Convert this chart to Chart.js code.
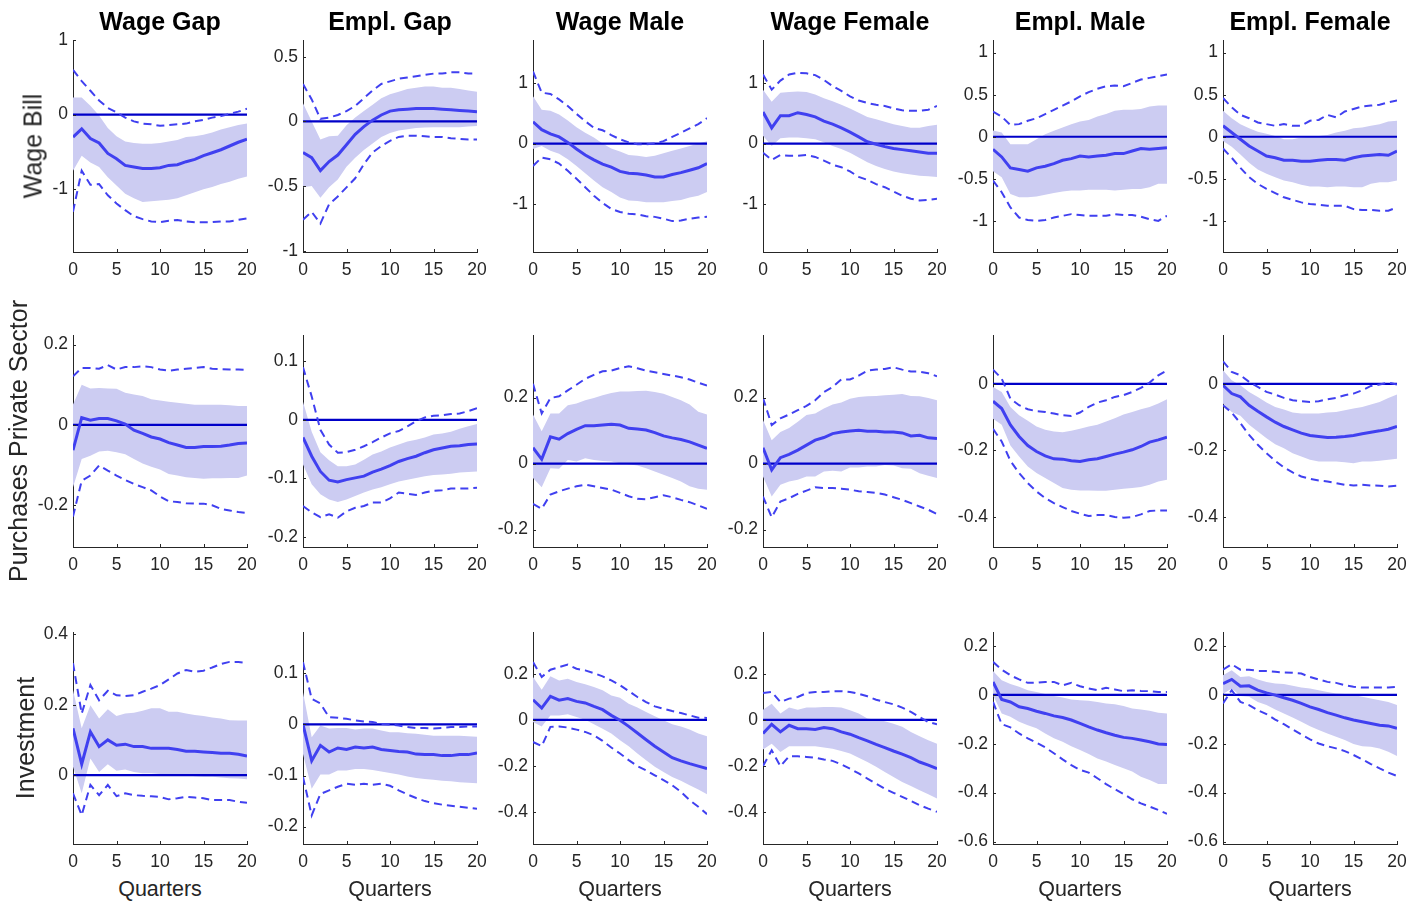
<!DOCTYPE html>
<html lang="en">
<head>
<meta charset="UTF-8">
<title>Impulse responses by shock and variable</title>
<script src="https://cdn.jsdelivr.net/npm/chart.js"></script>
<style>
  body { margin: 0; background: #fff; font-family: "Liberation Sans", Arial, sans-serif; }
  #fig { position: relative; width: 1424px; height: 905px; overflow: hidden; }
  .panel { position: absolute; }
  .colTitle { position: absolute; font-weight: bold; font-size: 25px; color: #000; text-align: center; white-space: nowrap; transform: translate(-50%, -50%); }
  .rowLabel { position: absolute; font-size: 25px; color: #262626; white-space: nowrap; transform: translate(-50%, -50%) rotate(-90deg); }
  .xLabel { position: absolute; font-size: 21.5px; color: #262626; white-space: nowrap; transform: translate(-50%, -50%); }
</style>
</head>
<body>
<div id="fig"></div>
<script>
const columns = ["Wage Gap", "Empl. Gap", "Wage Male", "Wage Female", "Empl. Male", "Empl. Female"];
const rows = ["Wage Bill", "Purchases Private Sector", "Investment"];
const quarters = [0,1,2,3,4,5,6,7,8,9,10,11,12,13,14,15,16,17,18,19,20];
const xTicks = [0, 5, 10, 15, 20];

// y limits and tick labels, one entry per panel (row by row)
const yMin = [
  [-1.84, -1.01, -1.79, -1.79, -1.37, -1.37],
  [-0.304, -0.217, -0.253, -0.253, -0.49, -0.49],
  [-0.196, -0.234, -0.54, -0.54, -0.61, -0.61]
];
const yMax = [
  [1, 0.63, 1.71, 1.71, 1.15, 1.15],
  [0.224, 0.145, 0.39, 0.39, 0.147, 0.147],
  [0.407, 0.181, 0.383, 0.383, 0.257, 0.257]
];
const yTicks = [
  [[-1,0,1], [-1,-0.5,0,0.5], [-1,0,1], [-1,0,1], [-1,-0.5,0,0.5,1], [-1,-0.5,0,0.5,1]],
  [[-0.2,0,0.2], [-0.2,-0.1,0,0.1], [-0.2,0,0.2], [-0.2,0,0.2], [-0.4,-0.2,0], [-0.4,-0.2,0]],
  [[0,0.2,0.4], [-0.2,-0.1,0,0.1], [-0.4,-0.2,0,0.2], [-0.4,-0.2,0,0.2], [-0.6,-0.4,-0.2,0,0.2], [-0.6,-0.4,-0.2,0,0.2]]
];

// ---- Wage Bill shock ----
const wageBillMedian = [
  [-0.30,-0.19,-0.32,-0.38,-0.52,-0.59,-0.68,-0.70,-0.72,-0.72,-0.71,-0.68,-0.67,-0.63,-0.60,-0.55,-0.51,-0.47,-0.42,-0.37,-0.33],
  [-0.24,-0.28,-0.38,-0.31,-0.26,-0.18,-0.10,-0.04,0.01,0.05,0.08,0.09,0.095,0.10,0.10,0.10,0.095,0.09,0.085,0.08,0.075],
  [0.36,0.23,0.16,0.11,0.02,-0.09,-0.19,-0.27,-0.34,-0.39,-0.46,-0.49,-0.50,-0.52,-0.55,-0.55,-0.51,-0.48,-0.44,-0.40,-0.33],
  [0.52,0.26,0.46,0.46,0.51,0.48,0.44,0.37,0.32,0.26,0.19,0.11,0.03,-0.01,-0.05,-0.08,-0.10,-0.12,-0.14,-0.16,-0.16],
  [-0.15,-0.24,-0.37,-0.39,-0.41,-0.37,-0.35,-0.32,-0.28,-0.26,-0.23,-0.24,-0.23,-0.22,-0.20,-0.20,-0.17,-0.14,-0.15,-0.14,-0.13],
  [0.13,0.05,-0.03,-0.11,-0.17,-0.23,-0.25,-0.28,-0.28,-0.29,-0.29,-0.28,-0.27,-0.27,-0.28,-0.25,-0.23,-0.22,-0.21,-0.22,-0.17]
];
const wageBillBandHi = [
  [0.23,0.23,0.12,-0.01,-0.18,-0.29,-0.36,-0.38,-0.39,-0.39,-0.38,-0.36,-0.34,-0.30,-0.29,-0.27,-0.24,-0.20,-0.17,-0.14,-0.12],
  [0.14,0.0,-0.14,-0.115,-0.11,-0.03,0.03,0.08,0.13,0.18,0.21,0.23,0.25,0.26,0.27,0.27,0.26,0.26,0.25,0.24,0.23],
  [0.78,0.56,0.54,0.48,0.38,0.27,0.18,0.10,0.0,-0.08,-0.13,-0.19,-0.20,-0.22,-0.20,-0.16,-0.12,-0.08,-0.04,0.0,0.04],
  [0.89,0.69,0.84,0.85,0.86,0.85,0.81,0.75,0.70,0.64,0.58,0.51,0.44,0.40,0.36,0.32,0.29,0.26,0.26,0.29,0.31],
  [0.075,0.05,-0.09,-0.09,-0.09,-0.03,0.03,0.07,0.11,0.15,0.18,0.20,0.24,0.27,0.31,0.32,0.32,0.33,0.36,0.37,0.37],
  [0.31,0.22,0.15,0.10,0.06,0.035,0.01,-0.03,-0.03,-0.01,0.0,0.01,0.02,0.05,0.07,0.10,0.11,0.13,0.15,0.18,0.19]
];
const wageBillBandLo = [
  [-0.75,-0.55,-0.64,-0.70,-0.84,-0.95,-1.06,-1.12,-1.17,-1.16,-1.15,-1.14,-1.12,-1.08,-1.04,-1.00,-0.97,-0.93,-0.90,-0.86,-0.83],
  [-0.51,-0.50,-0.59,-0.51,-0.45,-0.35,-0.28,-0.22,-0.17,-0.12,-0.09,-0.07,-0.06,-0.05,-0.046,-0.044,-0.044,-0.044,-0.044,-0.04,-0.035],
  [-0.09,-0.04,-0.12,-0.17,-0.26,-0.37,-0.49,-0.61,-0.72,-0.80,-0.89,-0.94,-0.95,-0.97,-0.97,-0.97,-0.95,-0.93,-0.89,-0.86,-0.80],
  [0.13,-0.04,0.09,0.10,0.10,0.09,0.07,0.02,-0.04,-0.09,-0.15,-0.23,-0.31,-0.37,-0.42,-0.46,-0.49,-0.51,-0.53,-0.54,-0.55],
  [-0.41,-0.48,-0.68,-0.72,-0.72,-0.71,-0.69,-0.67,-0.65,-0.64,-0.64,-0.63,-0.63,-0.63,-0.64,-0.63,-0.62,-0.62,-0.60,-0.56,-0.56],
  [-0.05,-0.12,-0.21,-0.31,-0.39,-0.44,-0.48,-0.52,-0.54,-0.57,-0.59,-0.59,-0.60,-0.59,-0.59,-0.60,-0.60,-0.56,-0.54,-0.54,-0.52]
];
const wageBillOuterHi = [
  [0.60,0.45,0.32,0.19,0.09,0.03,-0.04,-0.09,-0.12,-0.13,-0.15,-0.14,-0.13,-0.12,-0.09,-0.07,-0.04,-0.02,0.01,0.04,0.08],
  [0.29,0.17,0.02,0.03,0.05,0.08,0.12,0.18,0.24,0.29,0.31,0.33,0.34,0.35,0.36,0.37,0.37,0.38,0.38,0.37,0.37],
  [1.19,0.84,0.82,0.73,0.62,0.49,0.37,0.26,0.22,0.14,0.07,0.02,-0.01,-0.01,0.0,0.04,0.11,0.18,0.25,0.32,0.42],
  [1.14,0.89,1.04,1.14,1.17,1.16,1.13,1.05,0.95,0.87,0.78,0.71,0.67,0.64,0.62,0.58,0.55,0.54,0.54,0.56,0.62],
  [0.30,0.24,0.14,0.15,0.19,0.22,0.27,0.32,0.37,0.42,0.48,0.53,0.57,0.60,0.61,0.60,0.64,0.68,0.70,0.72,0.74],
  [0.46,0.35,0.26,0.22,0.17,0.15,0.13,0.15,0.13,0.13,0.19,0.20,0.26,0.23,0.30,0.33,0.36,0.37,0.38,0.41,0.43]
];
const wageBillOuterLo = [
  [-1.30,-0.75,-0.94,-0.93,-1.08,-1.19,-1.28,-1.36,-1.40,-1.43,-1.44,-1.42,-1.41,-1.43,-1.44,-1.44,-1.44,-1.43,-1.43,-1.41,-1.39],
  [-0.76,-0.70,-0.79,-0.64,-0.58,-0.51,-0.44,-0.33,-0.24,-0.19,-0.15,-0.12,-0.11,-0.11,-0.115,-0.12,-0.12,-0.13,-0.135,-0.14,-0.14],
  [-0.37,-0.23,-0.26,-0.33,-0.45,-0.58,-0.72,-0.86,-0.98,-1.08,-1.13,-1.16,-1.17,-1.20,-1.21,-1.24,-1.28,-1.27,-1.24,-1.22,-1.21],
  [-0.15,-0.27,-0.19,-0.20,-0.20,-0.19,-0.22,-0.28,-0.35,-0.39,-0.46,-0.55,-0.60,-0.67,-0.72,-0.79,-0.86,-0.91,-0.94,-0.93,-0.91],
  [-0.52,-0.66,-0.84,-0.96,-0.99,-1.00,-0.99,-0.96,-0.94,-0.92,-0.93,-0.94,-0.94,-0.94,-0.92,-0.93,-0.93,-0.95,-0.98,-1.00,-0.94],
  [-0.14,-0.25,-0.37,-0.48,-0.56,-0.62,-0.67,-0.72,-0.75,-0.78,-0.80,-0.81,-0.82,-0.82,-0.82,-0.86,-0.87,-0.87,-0.88,-0.88,-0.84]
];

// ---- Purchases Private Sector shock ----
const purchasesMedian = [
  [-0.063,0.018,0.012,0.016,0.016,0.01,0.002,-0.013,-0.021,-0.03,-0.035,-0.044,-0.05,-0.056,-0.056,-0.054,-0.054,-0.053,-0.05,-0.046,-0.045],
  [-0.030,-0.062,-0.088,-0.103,-0.106,-0.102,-0.099,-0.096,-0.089,-0.084,-0.078,-0.071,-0.066,-0.062,-0.056,-0.051,-0.048,-0.045,-0.044,-0.042,-0.041],
  [0.048,0.013,0.081,0.074,0.091,0.104,0.115,0.115,0.117,0.119,0.117,0.107,0.105,0.102,0.094,0.084,0.078,0.073,0.066,0.056,0.046],
  [0.048,-0.019,0.018,0.028,0.041,0.056,0.071,0.079,0.091,0.096,0.099,0.101,0.098,0.098,0.096,0.096,0.093,0.084,0.086,0.078,0.076],
  [-0.052,-0.074,-0.123,-0.158,-0.185,-0.203,-0.216,-0.225,-0.226,-0.231,-0.233,-0.228,-0.225,-0.218,-0.211,-0.205,-0.198,-0.188,-0.175,-0.168,-0.16],
  [-0.004,-0.029,-0.039,-0.064,-0.082,-0.099,-0.115,-0.128,-0.138,-0.148,-0.155,-0.158,-0.161,-0.16,-0.158,-0.155,-0.15,-0.145,-0.141,-0.136,-0.128]
];
const purchasesBandHi = [
  [0.051,0.10,0.091,0.092,0.091,0.09,0.08,0.076,0.072,0.064,0.061,0.058,0.055,0.053,0.05,0.05,0.05,0.05,0.049,0.047,0.047],
  [0.031,-0.02,-0.055,-0.069,-0.079,-0.079,-0.076,-0.068,-0.059,-0.054,-0.047,-0.042,-0.037,-0.034,-0.03,-0.025,-0.023,-0.02,-0.015,-0.011,-0.007],
  [0.149,0.098,0.152,0.152,0.177,0.182,0.192,0.199,0.207,0.214,0.219,0.219,0.22,0.221,0.217,0.212,0.202,0.192,0.179,0.157,0.149],
  [0.132,0.071,0.096,0.108,0.127,0.147,0.152,0.167,0.179,0.185,0.197,0.202,0.204,0.205,0.207,0.209,0.211,0.205,0.204,0.199,0.192],
  [-0.009,-0.024,-0.069,-0.094,-0.111,-0.128,-0.138,-0.143,-0.145,-0.141,-0.135,-0.128,-0.123,-0.113,-0.103,-0.092,-0.084,-0.076,-0.069,-0.059,-0.046],
  [0.041,0.011,-0.004,-0.024,-0.039,-0.056,-0.069,-0.077,-0.086,-0.089,-0.089,-0.089,-0.086,-0.084,-0.079,-0.074,-0.069,-0.062,-0.054,-0.042,-0.032]
];
const purchasesBandLo = [
  [-0.155,-0.085,-0.077,-0.066,-0.064,-0.068,-0.073,-0.085,-0.096,-0.104,-0.111,-0.122,-0.126,-0.13,-0.132,-0.134,-0.133,-0.133,-0.132,-0.132,-0.126],
  [-0.076,-0.11,-0.127,-0.136,-0.14,-0.136,-0.13,-0.124,-0.119,-0.115,-0.11,-0.105,-0.102,-0.099,-0.096,-0.094,-0.093,-0.092,-0.09,-0.089,-0.088],
  [-0.044,-0.072,-0.014,-0.016,0.011,0.006,0.016,0.011,0.008,0.006,0.001,-0.002,-0.006,-0.014,-0.024,-0.034,-0.044,-0.054,-0.069,-0.076,-0.079],
  [-0.039,-0.1,-0.064,-0.054,-0.049,-0.039,-0.039,-0.024,-0.022,-0.024,-0.012,-0.012,-0.009,-0.009,-0.004,-0.006,-0.014,-0.016,-0.029,-0.037,-0.044],
  [-0.105,-0.123,-0.185,-0.218,-0.248,-0.268,-0.283,-0.298,-0.313,-0.318,-0.32,-0.32,-0.321,-0.321,-0.318,-0.315,-0.313,-0.31,-0.303,-0.293,-0.288],
  [-0.059,-0.084,-0.096,-0.123,-0.143,-0.163,-0.181,-0.193,-0.208,-0.218,-0.228,-0.233,-0.233,-0.233,-0.235,-0.238,-0.233,-0.233,-0.231,-0.228,-0.225]
];
const purchasesOuterHi = [
  [0.121,0.142,0.142,0.14,0.149,0.138,0.144,0.144,0.146,0.144,0.138,0.135,0.138,0.14,0.142,0.144,0.14,0.139,0.138,0.138,0.137],
  [0.09,0.04,-0.017,-0.042,-0.056,-0.055,-0.051,-0.045,-0.038,-0.03,-0.023,-0.019,-0.011,-0.002,0.004,0.007,0.008,0.01,0.011,0.015,0.02],
  [0.242,0.152,0.199,0.204,0.222,0.239,0.257,0.269,0.28,0.282,0.29,0.295,0.289,0.282,0.277,0.272,0.267,0.262,0.255,0.245,0.237],
  [0.199,0.117,0.137,0.149,0.162,0.175,0.192,0.217,0.232,0.255,0.255,0.267,0.282,0.285,0.287,0.292,0.285,0.279,0.279,0.274,0.265],
  [0.043,0.016,-0.044,-0.064,-0.076,-0.082,-0.084,-0.089,-0.094,-0.096,-0.086,-0.069,-0.056,-0.049,-0.039,-0.034,-0.024,-0.012,0.004,0.026,0.041],
  [0.068,0.036,0.026,0.006,-0.009,-0.024,-0.032,-0.042,-0.049,-0.052,-0.054,-0.052,-0.046,-0.042,-0.034,-0.029,-0.019,-0.006,-0.002,0.004,-0.002]
];
const purchasesOuterLo = [
  [-0.228,-0.139,-0.126,-0.101,-0.114,-0.126,-0.137,-0.147,-0.155,-0.163,-0.178,-0.19,-0.192,-0.195,-0.196,-0.196,-0.2,-0.209,-0.213,-0.217,-0.219],
  [-0.147,-0.158,-0.166,-0.161,-0.167,-0.156,-0.15,-0.147,-0.141,-0.141,-0.134,-0.124,-0.126,-0.128,-0.124,-0.121,-0.12,-0.117,-0.117,-0.117,-0.116],
  [-0.122,-0.137,-0.094,-0.084,-0.076,-0.069,-0.064,-0.069,-0.074,-0.079,-0.089,-0.099,-0.107,-0.108,-0.102,-0.096,-0.102,-0.11,-0.117,-0.127,-0.137],
  [-0.1,-0.163,-0.115,-0.105,-0.092,-0.082,-0.072,-0.074,-0.074,-0.076,-0.079,-0.084,-0.086,-0.089,-0.094,-0.102,-0.11,-0.12,-0.13,-0.14,-0.153],
  [-0.135,-0.173,-0.231,-0.268,-0.298,-0.323,-0.343,-0.358,-0.37,-0.382,-0.39,-0.397,-0.394,-0.394,-0.4,-0.402,-0.4,-0.392,-0.382,-0.38,-0.38],
  [-0.064,-0.086,-0.118,-0.153,-0.183,-0.208,-0.231,-0.251,-0.266,-0.278,-0.285,-0.29,-0.293,-0.298,-0.303,-0.305,-0.303,-0.305,-0.306,-0.308,-0.306]
];

// ---- Investment shock ----
const investmentMedian = [
  [0.133,0.031,0.123,0.081,0.1,0.085,0.088,0.081,0.081,0.076,0.076,0.076,0.073,0.068,0.068,0.066,0.064,0.062,0.062,0.059,0.054],
  [0.0,-0.071,-0.041,-0.054,-0.046,-0.049,-0.044,-0.046,-0.044,-0.049,-0.051,-0.053,-0.054,-0.058,-0.059,-0.059,-0.061,-0.061,-0.059,-0.059,-0.056],
  [0.088,0.052,0.103,0.086,0.093,0.081,0.074,0.059,0.045,0.02,-0.001,-0.028,-0.057,-0.086,-0.114,-0.139,-0.164,-0.178,-0.19,-0.201,-0.212],
  [-0.059,-0.019,-0.052,-0.023,-0.038,-0.038,-0.041,-0.033,-0.038,-0.052,-0.062,-0.077,-0.091,-0.106,-0.12,-0.135,-0.149,-0.164,-0.183,-0.197,-0.212],
  [0.053,-0.019,-0.029,-0.049,-0.056,-0.067,-0.076,-0.086,-0.093,-0.103,-0.117,-0.131,-0.144,-0.155,-0.165,-0.174,-0.178,-0.185,-0.192,-0.201,-0.203],
  [0.046,0.063,0.035,0.037,0.019,0.008,-0.001,-0.012,-0.022,-0.035,-0.049,-0.06,-0.073,-0.083,-0.094,-0.103,-0.11,-0.117,-0.124,-0.127,-0.137]
];
const investmentBandHi = [
  [0.242,0.133,0.199,0.161,0.187,0.168,0.175,0.177,0.183,0.19,0.19,0.18,0.18,0.175,0.171,0.168,0.164,0.161,0.156,0.155,0.155],
  [0.063,-0.025,-0.002,-0.008,-0.007,-0.007,-0.01,-0.008,-0.008,-0.012,-0.015,-0.015,-0.017,-0.018,-0.02,-0.022,-0.022,-0.022,-0.022,-0.023,-0.024],
  [0.187,0.132,0.19,0.172,0.18,0.165,0.155,0.143,0.129,0.107,0.097,0.071,0.054,0.035,0.016,-0.001,-0.019,-0.028,-0.042,-0.059,-0.071],
  [0.045,0.071,0.028,0.054,0.045,0.054,0.054,0.057,0.057,0.054,0.042,0.028,0.006,0.001,-0.006,-0.016,-0.03,-0.052,-0.071,-0.088,-0.103],
  [0.098,0.06,0.044,0.033,0.019,0.012,0.003,-0.005,-0.011,-0.019,-0.022,-0.024,-0.029,-0.035,-0.038,-0.046,-0.056,-0.06,-0.065,-0.073,-0.076],
  [0.08,0.101,0.073,0.076,0.063,0.053,0.046,0.044,0.037,0.03,0.026,0.019,0.012,0.005,0.003,-0.001,-0.008,-0.015,-0.022,-0.029,-0.042]
];
const investmentBandLo = [
  [0.024,-0.052,0.047,0.009,0.031,0.012,0.016,0.009,0.005,0.005,0.003,0.003,0.003,0.0,-0.003,-0.005,-0.005,-0.007,-0.009,-0.01,-0.012],
  [-0.058,-0.126,-0.098,-0.098,-0.09,-0.09,-0.087,-0.087,-0.089,-0.092,-0.095,-0.098,-0.102,-0.105,-0.107,-0.108,-0.11,-0.111,-0.113,-0.114,-0.115],
  [-0.009,-0.028,0.02,0.02,0.025,0.013,0.001,-0.019,-0.038,-0.059,-0.088,-0.114,-0.146,-0.175,-0.204,-0.226,-0.248,-0.265,-0.284,-0.303,-0.323],
  [-0.129,-0.103,-0.139,-0.114,-0.114,-0.114,-0.114,-0.12,-0.125,-0.135,-0.146,-0.164,-0.183,-0.204,-0.226,-0.248,-0.27,-0.288,-0.306,-0.323,-0.342],
  [-0.001,-0.076,-0.09,-0.11,-0.124,-0.137,-0.158,-0.178,-0.192,-0.21,-0.226,-0.242,-0.26,-0.273,-0.287,-0.3,-0.314,-0.335,-0.348,-0.365,-0.365],
  [0.003,0.026,-0.005,-0.008,-0.029,-0.042,-0.06,-0.076,-0.093,-0.11,-0.128,-0.144,-0.158,-0.171,-0.185,-0.201,-0.21,-0.212,-0.219,-0.233,-0.25]
];
const investmentOuterHi = [
  [0.318,0.175,0.256,0.213,0.24,0.227,0.225,0.227,0.237,0.246,0.256,0.272,0.289,0.299,0.294,0.297,0.306,0.316,0.322,0.322,0.319],
  [0.122,0.05,0.041,0.014,0.013,0.011,0.008,0.006,0.005,0.001,0.0,-0.002,-0.005,-0.007,-0.007,-0.008,-0.007,-0.005,-0.005,-0.004,-0.004],
  [0.252,0.187,0.219,0.23,0.241,0.223,0.216,0.204,0.19,0.172,0.151,0.126,0.1,0.078,0.059,0.049,0.039,0.03,0.02,0.01,0.009],
  [0.117,0.122,0.078,0.093,0.1,0.117,0.122,0.122,0.125,0.125,0.122,0.114,0.103,0.088,0.078,0.068,0.054,0.035,0.013,-0.009,-0.019],
  [0.135,0.103,0.08,0.063,0.049,0.049,0.053,0.053,0.039,0.049,0.035,0.026,0.019,0.029,0.022,0.015,0.019,0.016,0.015,0.012,0.012],
  [0.103,0.125,0.103,0.103,0.098,0.097,0.094,0.091,0.09,0.087,0.073,0.063,0.053,0.049,0.039,0.033,0.03,0.03,0.03,0.03,0.033]
];
const investmentOuterLo = [
  [-0.052,-0.114,-0.028,-0.057,-0.028,-0.06,-0.052,-0.057,-0.059,-0.06,-0.062,-0.069,-0.066,-0.062,-0.064,-0.066,-0.071,-0.071,-0.071,-0.076,-0.079],
  [-0.103,-0.178,-0.136,-0.129,-0.122,-0.116,-0.118,-0.116,-0.118,-0.116,-0.12,-0.129,-0.137,-0.144,-0.15,-0.154,-0.157,-0.159,-0.161,-0.163,-0.165],
  [-0.096,-0.114,-0.03,-0.028,-0.033,-0.042,-0.052,-0.067,-0.091,-0.12,-0.146,-0.175,-0.201,-0.219,-0.241,-0.262,-0.284,-0.313,-0.349,-0.378,-0.41],
  [-0.2,-0.132,-0.201,-0.158,-0.158,-0.161,-0.164,-0.172,-0.178,-0.193,-0.212,-0.233,-0.255,-0.277,-0.299,-0.317,-0.335,-0.352,-0.371,-0.386,-0.4],
  [-0.029,-0.12,-0.133,-0.158,-0.178,-0.196,-0.215,-0.239,-0.264,-0.287,-0.307,-0.318,-0.341,-0.365,-0.386,-0.405,-0.427,-0.444,-0.457,-0.471,-0.487],
  [-0.035,0.019,-0.029,-0.042,-0.063,-0.079,-0.101,-0.12,-0.141,-0.162,-0.182,-0.199,-0.21,-0.219,-0.23,-0.246,-0.264,-0.283,-0.301,-0.318,-0.332]
];

const medians = [wageBillMedian, purchasesMedian, investmentMedian];
const bandHi = [wageBillBandHi, purchasesBandHi, investmentBandHi];
const bandLo = [wageBillBandLo, purchasesBandLo, investmentBandLo];
const outerHi = [wageBillOuterHi, purchasesOuterHi, investmentOuterHi];
const outerLo = [wageBillOuterLo, purchasesOuterLo, investmentOuterLo];

// layout of the plot areas
const plotLeft = [73, 303, 533, 763, 993, 1223];
const plotTop = [40, 335, 632];
const plotW = 174, plotH = 212;
const padL = 50, padT = 14, padR = 20, padB = 30;
const rowLabelX = [33, 18, 25];

const lineBlue = "rgb(64,64,240)";
const bandFill = "rgb(204,204,242)";
const zeroBlue = "rgb(0,0,200)";
const axisGrey = "#262626";
const fontFamily = "'Liberation Sans', Arial, sans-serif";

const fig = document.getElementById("fig");

function pts(series) {
  return quarters.map((q, i) => ({ x: q, y: series[i] }));
}

// zero line drawn right after the shaded band
const zeroLine = {
  id: "zeroLine",
  afterDatasetDraw(chart, args) {
    if (args.index !== 3) return;
    const { ctx, scales: { x, y } } = chart;
    const yy = y.getPixelForValue(0);
    ctx.save();
    ctx.strokeStyle = zeroBlue;
    ctx.lineWidth = 2.2;
    ctx.beginPath();
    ctx.moveTo(x.getPixelForValue(0), yy);
    ctx.lineTo(x.getPixelForValue(20), yy);
    ctx.stroke();
    ctx.restore();
  }
};

// MATLAB style ticks pointing into the axes
const inwardTicks = {
  id: "inwardTicks",
  afterDraw(chart) {
    const { ctx, scales: { x, y }, chartArea } = chart;
    ctx.save();
    ctx.strokeStyle = axisGrey;
    ctx.lineWidth = 1;
    ctx.beginPath();
    x.ticks.forEach(t => {
      const px = Math.round(x.getPixelForValue(t.value)) + 0.5;
      ctx.moveTo(px, chartArea.bottom);
      ctx.lineTo(px, chartArea.bottom - 3);
    });
    y.ticks.forEach(t => {
      const py = Math.round(y.getPixelForValue(t.value)) + 0.5;
      ctx.moveTo(chartArea.left, py);
      ctx.lineTo(chartArea.left + 3, py);
    });
    ctx.stroke();
    ctx.restore();
  }
};

function makePanel(r, c) {
  const box = document.createElement("div");
  box.className = "panel";
  const w = plotW + padL + padR, h = plotH + padT + padB;
  box.style.left = (plotLeft[c] - padL) + "px";
  box.style.top = (plotTop[r] - padT) + "px";
  const cv = document.createElement("canvas");
  cv.width = w; cv.height = h;
  cv.style.width = w + "px"; cv.style.height = h + "px";
  box.appendChild(cv);
  fig.appendChild(box);

  const ticksY = yTicks[r][c];
  new Chart(cv, {
    type: "line",
    data: {
      datasets: [
        { data: pts(medians[r][c]), borderColor: lineBlue, borderWidth: 3, fill: false },
        { data: pts(outerHi[r][c]), borderColor: lineBlue, borderWidth: 2, borderDash: [8, 5], fill: false },
        { data: pts(outerLo[r][c]), borderColor: lineBlue, borderWidth: 2, borderDash: [8, 5], fill: false },
        { data: pts(bandHi[r][c]), borderColor: "rgba(0,0,0,0)", borderWidth: 0, backgroundColor: bandFill, fill: "+1" },
        { data: pts(bandLo[r][c]), borderColor: "rgba(0,0,0,0)", borderWidth: 0, fill: false }
      ]
    },
    options: {
      responsive: false,
      animation: false,
      layout: { padding: { top: padT, right: padR, left: 0, bottom: 0 } },
      elements: { point: { radius: 0 }, line: { tension: 0 } },
      plugins: { legend: { display: false }, tooltip: { enabled: false } },
      scales: {
        x: {
          type: "linear", min: 0, max: 20,
          afterFit: s => { s.height = padB; s.paddingLeft = 0; s.paddingRight = 0; },
          afterBuildTicks: s => { s.ticks = xTicks.map(v => ({ value: v })); },
          ticks: { padding: 8, color: axisGrey, font: { size: 17.5, family: fontFamily }, maxRotation: 0 },
          grid: { display: false, drawTicks: false },
          border: { display: true, color: axisGrey, width: 1 }
        },
        y: {
          type: "linear", min: yMin[r][c], max: yMax[r][c],
          afterFit: s => { s.width = padL; s.paddingTop = 0; s.paddingBottom = 0; },
          afterBuildTicks: s => { s.ticks = ticksY.map(v => ({ value: v })); },
          ticks: { padding: 5, color: axisGrey, font: { size: 17.5, family: fontFamily }, callback: v => String(v) },
          grid: { display: false, drawTicks: false },
          border: { display: true, color: axisGrey, width: 1 }
        }
      }
    },
    plugins: [zeroLine, inwardTicks]
  });
}

for (let r = 0; r < rows.length; r++) {
  for (let c = 0; c < columns.length; c++) makePanel(r, c);
}

columns.forEach((name, c) => {
  const d = document.createElement("div");
  d.className = "colTitle";
  d.textContent = name;
  d.style.left = (plotLeft[c] + plotW / 2) + "px";
  d.style.top = "21px";
  fig.appendChild(d);

  const q = document.createElement("div");
  q.className = "xLabel";
  q.textContent = "Quarters";
  q.style.left = (plotLeft[c] + plotW / 2) + "px";
  q.style.top = "889px";
  fig.appendChild(q);
});

rows.forEach((name, r) => {
  const d = document.createElement("div");
  d.className = "rowLabel";
  d.textContent = name;
  d.style.left = rowLabelX[r] + "px";
  d.style.top = (plotTop[r] + plotH / 2) + "px";
  fig.appendChild(d);
});
</script>
</body>
</html>
